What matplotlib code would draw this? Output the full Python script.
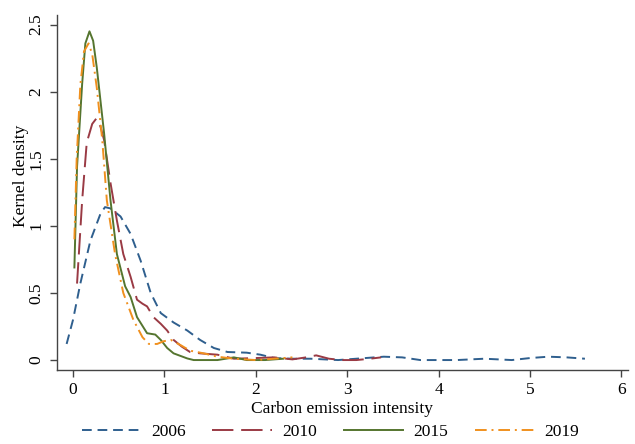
import matplotlib
matplotlib.use("Agg")
import matplotlib.pyplot as plt

plt.rcParams["font.family"] = ["Liberation Serif", "DejaVu Serif"]

# 2006
x_2006 = [-0.07, 0.0, 0.08, 0.19, 0.30, 0.35, 0.41, 0.52, 0.63, 0.74, 0.85, 0.96, 1.10, 1.25,
          1.39, 1.54, 1.69, 1.90, 2.05, 2.20, 2.40, 2.60, 2.90, 3.10, 3.40, 3.60, 3.80, 4.20,
          4.50, 4.80, 5.00, 5.20, 5.40, 5.60]
y_2006 = [0.12, 0.30, 0.57, 0.89, 1.09, 1.14, 1.13, 1.07, 0.94, 0.74, 0.50, 0.35, 0.28, 0.22,
          0.15, 0.09, 0.06, 0.055, 0.04, 0.015, 0.01, 0.01, 0.0, 0.01, 0.025, 0.02, 0.0, 0.0,
          0.01, 0.0, 0.015, 0.025, 0.02, 0.01]
# 2010
x_2010 = [0.044, 0.10, 0.15, 0.21, 0.255, 0.30, 0.34, 0.41, 0.48, 0.55, 0.63, 0.70, 0.76, 0.81,
          0.88, 0.96, 1.03, 1.10, 1.19, 1.28, 1.39, 1.58, 1.76, 2.00, 2.20, 2.40, 2.55, 2.66,
          2.80, 2.95, 3.10, 3.25, 3.37]
y_2010 = [0.57, 1.19, 1.62, 1.76, 1.80, 1.74, 1.64, 1.32, 1.04, 0.79, 0.62, 0.45, 0.42, 0.40,
          0.32, 0.27, 0.22, 0.15, 0.10, 0.06, 0.05, 0.04, 0.01, 0.015, 0.02, 0.005, 0.02, 0.035,
          0.01, 0.0, 0.0, 0.01, 0.02]
# 2015
x_2015 = [0.015, 0.044, 0.10, 0.135, 0.18, 0.22, 0.26, 0.34, 0.41, 0.48, 0.57, 0.63, 0.70, 0.81,
          0.90, 0.96, 1.03, 1.10, 1.25, 1.32, 1.58, 1.76, 1.90, 2.10, 2.30]
y_2015 = [0.69, 1.44, 2.06, 2.36, 2.45, 2.38, 2.18, 1.69, 1.19, 0.79, 0.55, 0.47, 0.32, 0.20,
          0.19, 0.15, 0.09, 0.05, 0.012, 0.0, 0.0, 0.02, 0.0, 0.0, 0.01]
# 2019
x_2019 = [0.015, 0.04, 0.08, 0.12, 0.17, 0.21, 0.26, 0.32, 0.37, 0.46, 0.55, 0.66, 0.76, 0.83,
          0.92, 0.99, 1.07, 1.18, 1.28, 1.43, 1.58, 1.76, 2.00, 2.20, 2.40]
y_2019 = [0.90, 1.50, 2.05, 2.30, 2.36, 2.28, 2.03, 1.64, 1.19, 0.79, 0.50, 0.30, 0.17, 0.12,
          0.12, 0.14, 0.15, 0.11, 0.07, 0.05, 0.025, 0.01, 0.0, 0.01, 0.02]

x_ticks = [0, 1, 2, 3, 4, 5, 6]
y_ticks = [0, 0.5, 1, 1.5, 2, 2.5]
y_ticklabels = ["0", "0.5", "1", "1.5", "2", "2.5"]

fig = plt.figure(figsize=(6.35, 4.44), dpi=100)
ax = fig.add_axes([0.0898, 0.1667, 0.899, 0.799])

lw = 1.4
ax.plot(x_2006, y_2006, color="#2f5f8e", lw=lw, dashes=(5, 3), label="2006")
ax.plot(x_2010, y_2010, color="#9a3a44", lw=lw, dashes=(11, 4), label="2010")
ax.plot(x_2015, y_2015, color="#55752f", lw=lw, label="2015")
ax.plot(x_2019, y_2019, color="#f0901e", lw=lw, dashes=(6, 2.5, 1, 2.5), label="2019")

ax.set_xlim(-0.175, 6.07)
ax.set_ylim(-0.074, 2.57)
ax.set_xticks(x_ticks)
ax.set_yticks(y_ticks)
ax.set_yticklabels(y_ticklabels, rotation=90, va="center")
ax.tick_params(labelsize=12.5, length=5, width=1, color="#444444", pad=4)
for s in ["top", "right"]:
    ax.spines[s].set_visible(False)
for s in ["left", "bottom"]:
    ax.spines[s].set_color("#444444")
    ax.spines[s].set_linewidth(1)

ax.set_xlabel("Carbon emission intensity", fontsize=12.5, labelpad=2)
ax.set_ylabel("Kernel density", fontsize=12.5)
ax.yaxis.set_label_coords(-0.049, 0.546)

fig.legend(loc="center", bbox_to_anchor=(0.52, 0.027), ncol=4, frameon=False,
           fontsize=12.5, handlelength=3.4, handletextpad=0.6, columnspacing=1.55)

fig.savefig("out.png", dpi=100)
